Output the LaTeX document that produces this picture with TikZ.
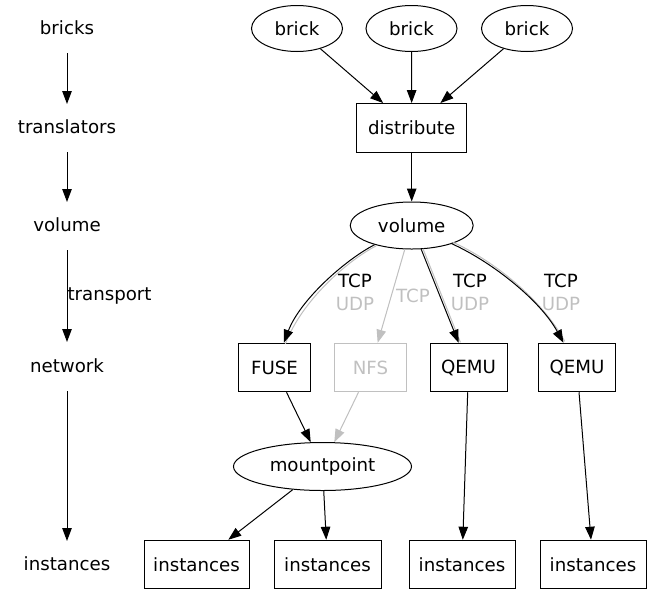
\documentclass[tikz,border=0pt]{standalone}
\usepackage{fontspec}
\setmainfont{DejaVu Sans}
\usetikzlibrary{arrows.meta,shapes.geometric}
\definecolor{lgray}{RGB}{192,192,192}
\begin{document}
\begin{tikzpicture}[x=1pt,y=-1pt,
  every node/.style={font=\fontsize{18.2}{22}\selectfont},
  lbl/.style={inner sep=0pt},
  ell/.style={draw,ellipse,inner sep=0pt,line width=1pt},
  box/.style={draw,rectangle,inner sep=0pt,minimum height=48.5pt,line width=1pt},
  arr/.style={line width=1pt,-{Triangle[length=13pt,width=9.5pt]}},
  garr/.style={arr,draw=lgray,fill=lgray},
  gshadow/.style={line width=1pt,draw=lgray}
]
\useasboundingbox (0,0) rectangle (652,595);
% left column
\node[lbl] (Lbricks) at (67,28) {bricks};
\node[lbl] (Ltrans) at (67,127) {translators};
\node[lbl] (Lvol) at (67,225) {volume};
\node[lbl] (Lnet) at (67,366) {network};
\node[lbl] (Linst) at (67,564) {instances};
\coordinate (la1) at (67,53); \coordinate (la2) at (67,104);
\coordinate (lb1) at (67,152); \coordinate (lb2) at (67,202);
\coordinate (lc1) at (67,250); \coordinate (lc2) at (67,342);
\coordinate (ld1) at (67,391); \coordinate (ld2) at (67,541);
\draw[arr] (la1) -- (la2);
\draw[arr] (lb1) -- (lb2);
\draw[arr] (lc1) -- node[lbl,anchor=west,pos=0.5,xshift=0pt] (Ltransport) {transport} (lc2);
\draw[arr] (ld1) -- (ld2);
% right
\node[ell,minimum width=91pt,minimum height=46pt] (b1) at (297,28.5) {brick};
\node[ell,minimum width=91pt,minimum height=46pt] (b2) at (411.5,28.5) {brick};
\node[ell,minimum width=91pt,minimum height=46pt] (b3) at (527,28.5) {brick};
\node[box,minimum width=110pt] (dist) at (411.7,127.8) {distribute};
\node[ell,minimum width=123pt,minimum height=47pt] (vol) at (411.7,225.5) {volume};
\node[box,minimum width=72.5pt] (fuse) at (274.5,367.5) {FUSE};
\node[box,minimum width=72.5pt,draw=lgray,text=lgray] (nfs) at (370.5,367.5) {NFS};
\node[box,minimum width=77pt] (q1) at (468.5,367.5) {QEMU};
\node[box,minimum width=77pt] (q2) at (577,367.5) {QEMU};
\node[ell,minimum width=178pt,minimum height=48pt] (mp) at (322.5,466.5) {mountpoint};
\node[box,minimum width=105pt] (i1) at (196.5,564.5) {instances};
\node[box,minimum width=107pt] (i2) at (327.5,564.5) {instances};
\node[box,minimum width=106pt] (i3) at (462,564.5) {instances};
\node[box,minimum width=106pt] (i4) at (593,564.5) {instances};
% edges
\draw[arr] (b1) -- (dist);
\draw[arr] (b2) -- (dist);
\draw[arr] (b3) -- (dist);
\draw[arr] (dist) -- (vol);
% volume -> FUSE (double)
\draw[gshadow,transform canvas={xshift=1.5pt,yshift=-1.2pt}] (vol) .. controls (345,260) and (300,300) .. (fuse);
\draw[arr] (vol) .. controls (345,260) and (300,300) .. (fuse);
% volume -> NFS
\draw[garr] (vol) -- (nfs);
% volume -> QEMU1
\draw[gshadow,transform canvas={xshift=1.8pt,yshift=0.4pt}] (vol) -- (q1);
\draw[arr] (vol) -- (q1);
% volume -> QEMU2
\draw[gshadow,transform canvas={xshift=1.3pt,yshift=1.4pt}] (vol) .. controls (492,262) and (540,300) .. (q2);
\draw[arr] (vol) .. controls (492,262) and (540,300) .. (q2);
% labels
\node[lbl] (t1) at (355,281) {TCP};
\node[lbl,text=lgray] (u1) at (355,304) {UDP};
\node[lbl,text=lgray] (t2) at (413,296) {TCP};
\node[lbl] (t3) at (470,281) {TCP};
\node[lbl,text=lgray] (u3) at (470,304) {UDP};
\node[lbl] (t4) at (561,281) {TCP};
\node[lbl,text=lgray] (u4) at (561,304) {UDP};
% lower edges
\draw[arr] (fuse) -- (mp);
\draw[garr] (nfs) -- (mp);
\draw[arr] (mp) -- (i1);
\draw[arr] (mp) -- (i2);
\draw[arr] (q1) -- (i3);
\draw[arr] (q2) -- (i4);
\end{tikzpicture}
\end{document}
